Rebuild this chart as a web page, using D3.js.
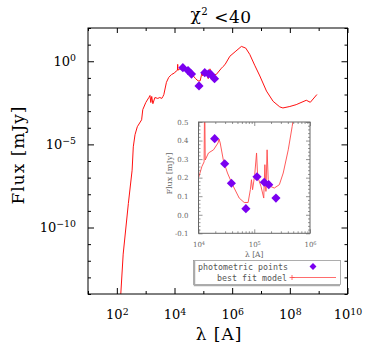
<!DOCTYPE html>
<html>
<head>
<meta charset="utf-8">
<script src="https://cdn.jsdelivr.net/npm/d3@7"></script>
<style>
body { margin: 0; background: #fff; }
svg { display: block; font-family: "DejaVu Serif", serif; }
</style>
</head>
<body>
<script>
// best fit model SED, wavelength in Angstrom, flux in mJy
var modelWave = [135, 166, 251, 339, 372, 427, 513, 724, 794, 1010, 1290, 1410, 1510, 1620, 1780,
    2090, 2630, 3090, 3630, 3980, 4270, 5250, 6310, 7940,
    1.00e4, 1.15e4, 1.26e4, 1.29e4, 1.32e4, 1.51e4, 1.86e4, 2.24e4, 2.34e4, 2.45e4, 2.82e4,
    3.31e4, 4.07e4, 5.37e4, 6.61e4, 7.76e4, 8.51e4, 8.91e4, 9.33e4, 1.02e5, 1.10e5, 1.15e5,
    1.32e5, 1.48e5, 1.55e5, 1.62e5, 1.70e5, 1.78e5, 1.95e5, 2.29e5, 2.82e5, 3.31e5, 4.07e5,
    4.79e5, 5.62e5, 8.32e5, 1.35e6, 2.09e6, 2.95e6, 4.07e6, 6.03e6, 9.12e6, 1.55e7, 2.63e7,
    4.47e7, 5.75e7, 1.0e8, 1.66e8, 3.72e8, 5.13e8, 8.71e8];
var modelFlux = [6.3e-15, 2.5e-12, 2.75e-9, 2.8e-7, 7.1e-6, 3.8e-5, 1.15e-4, 3.0e-4, 1.23e-3, 3.3e-3,
    6.6e-3, 8.7e-3, 3.3e-3, 7.6e-3, 2.8e-3, 6.6e-3, 5.8e-3, 6.6e-3, 5.8e-3, 7.6e-3, 1.0e-2,
    0.054, 0.107, 0.16,
    0.198, 0.26, 0.285, 0.65, 0.295, 0.333, 0.35, 0.387, 0.408, 0.387, 0.287,
    0.225, 0.162, 0.09, 0.066, 0.066, 0.135, 0.189, 0.135, 0.216, 0.333, 0.206,
    0.153, 0.09, 0.27, 0.126, 0.35, 0.189, 0.153, 0.144, 0.162, 0.225, 0.35,
    0.476, 0.62, 2.0, 4.1, 7.8, 6.2, 2.6, 0.58, 0.13, 0.016, 3.9e-3,
    1.8e-3, 1.55e-3, 1.9e-3, 2.45e-3, 4.5e-3, 3.4e-3, 0.01];

// photometric points
var photWave = [1.95e4, 2.95e4, 3.89e4, 7.08e4, 1.12e5, 1.51e5, 1.82e5, 2.45e5];
var photFlux = [0.41, 0.275, 0.17, 0.033, 0.205, 0.175, 0.162, 0.09];

// tick labels
var xTickExp = [2, 4, 6, 8, 10];
var yTickExp = [0, -5, -10];
var insetXTickExp = [4, 5, 6];
var insetYTicks = [-0.1, 0.0, 0.1, 0.2, 0.3, 0.4, 0.5];
var legendLabels = ["photometric points", "best fit model"];

var model = modelWave.map(function (w, i) { return {w: w, f: modelFlux[i]}; });
var phot = photWave.map(function (w, i) { return {w: w, f: photFlux[i]}; });

var W = 374, H = 351;
var margin = {top: 28, right: 26.5, bottom: 57, left: 88};
var pLeft = margin.left, pRight = W - margin.right, pTop = margin.top, pBottom = H - margin.bottom;

var x = d3.scaleLog().domain([1e1, 1e10]).range([pLeft, pRight]);
var y = d3.scaleLog().domain([1e-14, 1e2]).range([pBottom, pTop]);

var svg = d3.select("body").append("svg")
    .attr("width", W)
    .attr("height", H);

// superscript power label
function pow10(sel, e) {
    sel.text(null);
    sel.append("tspan").text("10");
    sel.append("tspan")
        .attr("dy", "-0.5em")
        .attr("font-size", "0.72em")
        .text(String(e).replace("-", "\u2212"));
}

var xDec = d3.range(1, 11).map(function (e) { return Math.pow(10, e); });
var yDec = d3.range(-14, 3).map(function (e) { return Math.pow(10, e); });
function expOf(v) { return Math.round(Math.log10(v)); }

var defs = svg.append("defs");
defs.append("clipPath").attr("id", "mainclip")
    .append("rect").attr("x", pLeft).attr("y", pTop)
    .attr("width", pRight - pLeft).attr("height", pBottom - pTop);

// model line
svg.append("path")
    .datum(model)
    .attr("clip-path", "url(#mainclip)")
    .attr("fill", "none")
    .attr("stroke", "#ff1010")
    .attr("stroke-width", 1)
    .attr("d", d3.line().x(function (d) { return x(d.w); }).y(function (d) { return y(d.f); }));

var diamond = d3.symbol().type(d3.symbolSquare).size(42);

svg.append("g").selectAll("path")
    .data(phot)
    .join("path")
    .attr("d", diamond)
    .attr("fill", "#7a00f0")
    .attr("transform", function (d) { return "translate(" + x(d.w) + "," + y(d.f) + ") rotate(45)"; });

// axes (ticks inward, on all four sides)
function styleAxis(g, majorTest, majLen, minLen, dir) {
    g.select(".domain").remove();
    g.selectAll(".tick line")
        .attr("stroke", "#000")
        .attr(dir, function (d) { return (majorTest(d) ? majLen : minLen); });
}
var xMajor = function (d) { return xTickExp.indexOf(expOf(d)) >= 0; };
var yMajor = function (d) { return expOf(d) % 5 === 0; };

var gx = svg.append("g")
    .attr("transform", "translate(0," + pBottom + ")")
    .call(d3.axisBottom(x).tickValues(xDec).tickSizeOuter(0).tickPadding(10)
        .tickFormat(function (d) { return xMajor(d) ? "x" : ""; }));
styleAxis(gx, xMajor, -6, -3, "y2");
gx.selectAll(".tick text")
    .attr("font-size", 13)
    .attr("font-family", "DejaVu Serif")
    .attr("fill", "#000")
    .each(function (d) { if (xMajor(d)) pow10(d3.select(this), expOf(d)); });

var gxt = svg.append("g")
    .attr("transform", "translate(0," + pTop + ")")
    .call(d3.axisTop(x).tickValues(xDec).tickSizeOuter(0).tickFormat(""));
styleAxis(gxt, xMajor, 5, 3, "y2");

var gy = svg.append("g")
    .attr("transform", "translate(" + pLeft + ",0)")
    .call(d3.axisLeft(y).tickValues(yDec).tickSizeOuter(0).tickPadding(6)
        .tickFormat(function (d) { return yTickExp.indexOf(expOf(d)) >= 0 ? "x" : ""; }));
styleAxis(gy, yMajor, 6, 3, "x2");
gy.selectAll(".tick text")
    .attr("font-size", 13)
    .attr("font-family", "DejaVu Serif")
    .attr("fill", "#000")
    .each(function (d) { if (yTickExp.indexOf(expOf(d)) >= 0) pow10(d3.select(this), expOf(d)); });

var gyr = svg.append("g")
    .attr("transform", "translate(" + pRight + ",0)")
    .call(d3.axisRight(y).tickValues(yDec).tickSizeOuter(0).tickFormat(""));
styleAxis(gyr, yMajor, -6, -3, "x2");

svg.append("rect")
    .attr("x", pLeft).attr("y", pTop)
    .attr("width", pRight - pLeft).attr("height", pBottom - pTop)
    .attr("fill", "none").attr("stroke", "#000").attr("stroke-width", 1);

// title and axis titles
var title = svg.append("text")
    .attr("x", 221).attr("y", 20)
    .attr("text-anchor", "middle")
    .attr("font-size", 17)
    .attr("letter-spacing", 0.5);
title.append("tspan").text("\u03c7");
title.append("tspan").attr("dy", "-0.5em").attr("font-size", "0.6em").text("2");
title.append("tspan").attr("dy", "0.5em").text(" <40");

svg.append("text")
    .attr("x", 219).attr("y", 340)
    .attr("text-anchor", "middle")
    .attr("font-size", 17)
    .attr("letter-spacing", 1)
    .text("\u03bb [A]");

svg.append("text")
    .attr("transform", "translate(24,155) rotate(-90)")
    .attr("text-anchor", "middle")
    .attr("font-size", 17)
    .attr("letter-spacing", 1)
    .text("Flux [mJy]");

// ---- inset ----
var ix0 = 198.5, ix1 = 310, iy0 = 122, iy1 = 233.3;
var xi = d3.scaleLog().domain([1e4, 1e6]).range([ix0, ix1]);
var yi = d3.scaleLinear().domain([-0.1, 0.5]).range([iy1, iy0]);
var inset = svg.append("g");
var grey = "#666";

inset.append("rect")
    .attr("x", ix0).attr("y", iy0).attr("width", ix1 - ix0).attr("height", iy1 - iy0)
    .attr("fill", "#fff");

defs.append("clipPath").attr("id", "insetclip")
    .append("rect").attr("x", ix0).attr("y", iy0)
    .attr("width", ix1 - ix0).attr("height", iy1 - iy0);

inset.append("path")
    .datum(model)
    .attr("clip-path", "url(#insetclip)")
    .attr("fill", "none")
    .attr("stroke", "#ff4848")
    .attr("stroke-width", 0.9)
    .attr("d", d3.line().x(function (d) { return xi(d.w); }).y(function (d) { return yi(d.f); }));

inset.append("g").selectAll("path")
    .data(phot)
    .join("path")
    .attr("d", diamond)
    .attr("fill", "#7a00f0")
    .attr("transform", function (d) { return "translate(" + xi(d.w) + "," + yi(d.f) + ") rotate(45)"; });

var ixTicks = xi.ticks();
var ixMajor = function (d) { return insetXTickExp.indexOf(expOf(d)) >= 0 && Math.abs(Math.log10(d) - expOf(d)) < 1e-6; };
var iyTicks = d3.range(-5, 26).map(function (i) { return +(i * 0.02).toFixed(2); });
var iyMajor = function (d) { return insetYTicks.some(function (t) { return Math.abs(t - d) < 1e-6; }); };

function styleInset(g, majorTest, majLen, minLen, dir) {
    g.select(".domain").remove();
    g.selectAll(".tick line")
        .attr("stroke", grey)
        .attr("stroke-width", 0.7)
        .attr(dir, function (d) { return (majorTest(d) ? majLen : minLen); });
    g.selectAll(".tick text")
        .attr("font-family", "DejaVu Serif")
        .attr("font-size", 7)
        .attr("fill", grey);
}

var ixb = inset.append("g")
    .attr("transform", "translate(0," + iy1 + ")")
    .call(d3.axisBottom(xi).tickValues(ixTicks).tickSizeOuter(0).tickPadding(3)
        .tickFormat(function (d) { return ixMajor(d) ? "x" : ""; }));
styleInset(ixb, ixMajor, -4, -2, "y2");
ixb.selectAll(".tick text").each(function (d) { if (ixMajor(d)) pow10(d3.select(this), expOf(d)); });

var ixt = inset.append("g")
    .attr("transform", "translate(0," + iy0 + ")")
    .call(d3.axisTop(xi).tickValues(ixTicks).tickSizeOuter(0).tickFormat(""));
styleInset(ixt, ixMajor, 4, 2, "y2");

var iyl = inset.append("g")
    .attr("transform", "translate(" + ix0 + ",0)")
    .call(d3.axisLeft(yi).tickValues(iyTicks).tickSizeOuter(0).tickPadding(4)
        .tickFormat(function (d) { return iyMajor(d) ? d3.format(".1f")(d).replace("\u2212", "-") : ""; }));
styleInset(iyl, iyMajor, 4, 2, "x2");

var iyr = inset.append("g")
    .attr("transform", "translate(" + ix1 + ",0)")
    .call(d3.axisRight(yi).tickValues(iyTicks).tickSizeOuter(0).tickFormat(""));
styleInset(iyr, iyMajor, -4, -2, "x2");

inset.append("rect")
    .attr("x", ix0).attr("y", iy0).attr("width", ix1 - ix0).attr("height", iy1 - iy0)
    .attr("fill", "none").attr("stroke", grey).attr("stroke-width", 1);

inset.append("text")
    .attr("x", (ix0 + ix1) / 2).attr("y", 256.5)
    .attr("text-anchor", "middle")
    .attr("font-size", 7.5)
    .attr("fill", grey)
    .text("\u03bb [A]");

inset.append("text")
    .attr("transform", "translate(172," + ((iy0 + iy1) / 2 - 4) + ") rotate(-90)")
    .attr("text-anchor", "middle")
    .attr("font-size", 8)
    .attr("fill", grey)
    .text("Flux [mJy]");

// ---- legend ----
var lg = svg.append("g");
lg.append("rect")
    .attr("x", 193.5).attr("y", 260.5).attr("width", 147).attr("height", 24)
    .attr("fill", "#fff").attr("stroke", "#999").attr("stroke-width", 0.8);
lg.append("path")
    .attr("d", "M194.5,261V285.5H340")
    .attr("fill", "none").attr("stroke", "#aaa").attr("stroke-width", 1.5);

lg.selectAll("text")
    .data(legendLabels)
    .join("text")
    .attr("x", function (d, i) { return i === 0 ? 288 : 287; })
    .attr("y", function (d, i) { return 269.5 + i * 11.5; })
    .attr("text-anchor", "end")
    .attr("font-family", "DejaVu Sans Mono, monospace")
    .attr("font-size", 8.3)
    .attr("fill", "#555")
    .text(function (d) { return d; });

lg.append("path")
    .attr("d", diamond.size(24))
    .attr("fill", "#7a00f0")
    .attr("transform", "translate(313,266.5) rotate(45)");

lg.append("path")
    .attr("d", "M292,277.5H336M289.5,277.5H294.5M292,275V280")
    .attr("fill", "none").attr("stroke", "#ff4848").attr("stroke-width", 0.8);
</script>
</body>
</html>
